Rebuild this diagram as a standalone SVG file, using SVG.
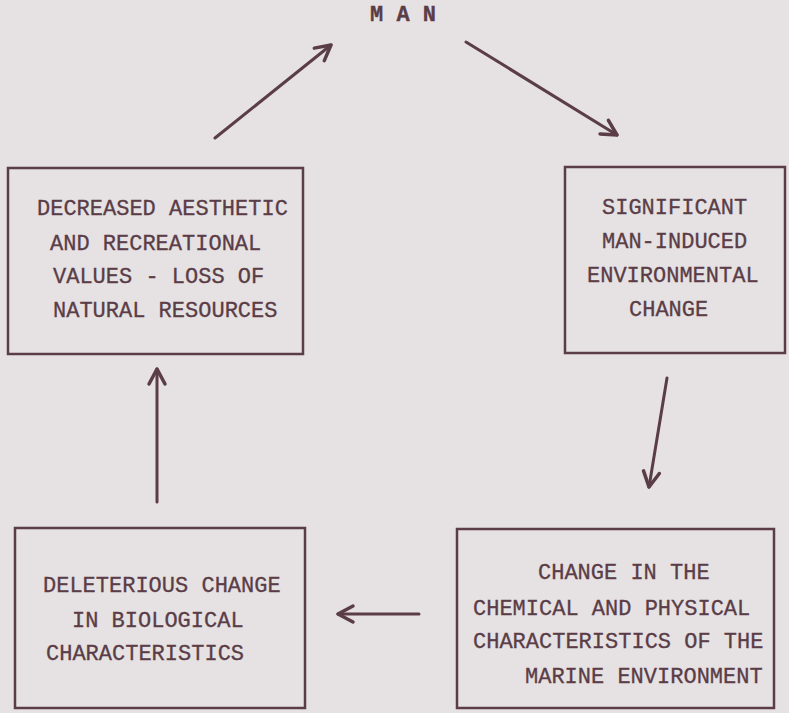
<svg xmlns="http://www.w3.org/2000/svg" width="789" height="713" viewBox="0 0 789 713">
<style>
.bg{fill:#e6e1e2}
.box{fill:none;stroke:#5a3d47;stroke-width:2.5}
.t{font-family:"Liberation Mono","Courier New",monospace;font-size:22px;fill:#5a3d47;stroke:#5a3d47;stroke-width:0.3}
.man{font-weight:bold}
.c{fill:none;stroke:#5a3d47;stroke-width:3;stroke-linecap:round}
</style>
<defs>
<marker id="ah" markerUnits="userSpaceOnUse" viewBox="-20 -12 24 24" refX="0" refY="0" markerWidth="24" markerHeight="24" orient="auto" overflow="visible">
<path d="M -15 -8 L 0 0 L -15 8" fill="none" stroke="#5a3d47" stroke-width="3.5" stroke-linecap="round" stroke-linejoin="round"/>
</marker>
</defs>
<rect class="bg" x="0" y="0" width="789" height="713"/>
<g id="man">
<text class="t man" x="370" y="21">M A N</text>
</g>
<g id="node-aesthetic">
<rect class="box" x="8" y="168" width="295" height="186"/>
<text class="t" x="37" y="215">DECREASED AESTHETIC</text>
<text class="t" x="50" y="250">AND RECREATIONAL</text>
<text class="t" x="53" y="283">VALUES - LOSS OF</text>
<text class="t" x="53" y="317">NATURAL RESOURCES</text>
</g>
<g id="node-significant">
<rect class="box" x="565" y="167" width="220" height="186"/>
<text class="t" x="602" y="214">SIGNIFICANT</text>
<text class="t" x="602" y="248">MAN-INDUCED</text>
<text class="t" x="587" y="282">ENVIRONMENTAL</text>
<text class="t" x="629" y="316">CHANGE</text>
</g>
<g id="node-deleterious">
<rect class="box" x="15" y="528" width="290" height="180"/>
<text class="t" x="43" y="592">DELETERIOUS CHANGE</text>
<text class="t" x="72" y="627">IN BIOLOGICAL</text>
<text class="t" x="46" y="660">CHARACTERISTICS</text>
</g>
<g id="node-marine">
<rect class="box" x="457" y="529" width="317" height="179"/>
<text class="t" x="538" y="579">CHANGE IN THE</text>
<text class="t" x="473" y="615">CHEMICAL AND PHYSICAL</text>
<text class="t" x="473" y="648">CHARACTERISTICS OF THE</text>
<text class="t" x="525" y="683">MARINE ENVIRONMENT</text>
</g>
<g id="connectors">
<line class="c" x1="215" y1="138" x2="331" y2="45" marker-end="url(#ah)"/>
<line class="c" x1="466" y1="42" x2="617" y2="135" marker-end="url(#ah)"/>
<line class="c" x1="667" y1="378" x2="649" y2="487" marker-end="url(#ah)"/>
<line class="c" x1="419" y1="614" x2="338" y2="614" marker-end="url(#ah)"/>
<line class="c" x1="157" y1="502" x2="157" y2="369" marker-end="url(#ah)"/>
</g>
</svg>
